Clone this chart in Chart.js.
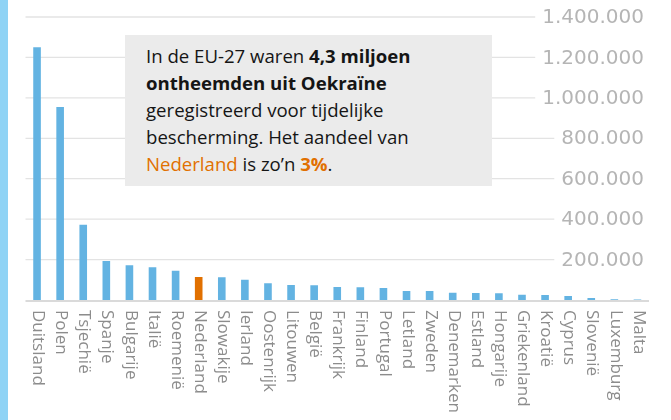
<!DOCTYPE html>
<html lang="nl">
<head>
<meta charset="utf-8">
<script src="https://cdn.jsdelivr.net/npm/chart.js@4.4.1/dist/chart.umd.min.js"></script>
<style>
  body { margin: 0; background: #fff; }
  .wrap { position: relative; width: 671px; height: 420px; overflow: hidden; }
  .streep { position: absolute; left: 0; top: 0; width: 8px; height: 420px; background: #8fd3f5; }
  .kader {
    position: absolute; left: 125px; top: 35px; width: 346px; height: 144px;
    padding: 7px 0 0 21px; background: #ebebeb;
    font-family: "Open Sans", sans-serif; font-size: 18.6px; line-height: 27px; color: #151515;
    white-space: nowrap;
  }
  .kader b { font-weight: 700; }
  .oranje { color: #e17000; }
</style>
</head>
<body>
<div class="wrap">
  <canvas id="vluchtelingenChart" width="671" height="420"></canvas>
  <div class="streep"></div>
  <div class="kader">
    In de EU-27 waren <b>4,3 miljoen</b><br>
    <b>ontheemden uit Oekraïne</b><br>
    geregistreerd voor tijdelijke<br>
    bescherming. Het aandeel van<br>
    <span class="oranje">Nederland</span> is zo’n <b class="oranje">3%</b>.
  </div>
</div>
<script>
const landen = ['Duitsland', 'Polen', 'Tsjechië', 'Spanje', 'Bulgarije', 'Italië', 'Roemenië', 'Nederland',
    'Slowakije', 'Ierland', 'Oostenrijk', 'Litouwen', 'België', 'Frankrijk', 'Finland', 'Portugal', 'Letland',
    'Zweden', 'Denemarken', 'Estland', 'Hongarije', 'Griekenland', 'Kroatië', 'Cyprus', 'Slovenië', 'Luxemburg', 'Malta'];
const ontheemden = [1250000, 955000, 372000, 193000, 172000, 162000, 145000, 114000,
    113000, 100000, 83000, 74000, 73000, 64000, 63000, 59000, 45000,
    44000, 36000, 35000, 33000, 26000, 25000, 20000, 10000, 4000, 2000];
const yMax = 1400000;
const yStap = 200000;

function formatNL(v) {
    return String(v).replace(/\B(?=(\d{3})+(?!\d))/g, '.');
}

const kleuren = landen.map(l => l === 'Nederland' ? '#e17000' : '#63b3e2');

const assenPlugin = {
    id: 'assenPlugin',
    beforeDatasetsDraw(chart) {
        const { ctx, chartArea, scales: { x, y } } = chart;
        ctx.save();
        // gridlines stoppen voor de labels rechts
        ctx.font = '20px "DejaVu Sans"';
        ctx.textAlign = 'right';
        ctx.textBaseline = 'middle';
        y.ticks.forEach(t => {
            if (t.value === 0) return;
            const py = y.getPixelForValue(t.value);
            const label = formatNL(t.value);
            const w = ctx.measureText(label).width;
            ctx.strokeStyle = '#e3e3e3';
            ctx.lineWidth = 1.3;
            ctx.beginPath();
            ctx.moveTo(chartArea.left, py);
            ctx.lineTo(644 - w - 7, py);
            ctx.stroke();
            ctx.fillStyle = '#b5b5b5';
            ctx.fillText(label, 644, py + 1);
        });
        // landnamen, met de klok mee gedraaid
        ctx.font = '17px "Open Sans"';
        ctx.fillStyle = '#8c8c8c';
        ctx.textAlign = 'left';
        ctx.textBaseline = 'middle';
        landen.forEach((naam, i) => {
            const px = x.getPixelForValue(i);
            ctx.save();
            ctx.translate(px + 1, chartArea.bottom + 10);
            ctx.rotate(Math.PI / 2);
            ctx.fillText(naam, 0, 0);
            ctx.restore();
        });
        ctx.restore();
    },
    afterDatasetsDraw(chart) {
        const { ctx, chartArea, scales: { y } } = chart;
        const py = y.getPixelForValue(0);
        ctx.save();
        ctx.strokeStyle = '#dadada';
        ctx.lineWidth = 2;
        ctx.beginPath();
        ctx.moveTo(chartArea.left, py + 1);
        ctx.lineTo(chartArea.right, py + 1);
        ctx.stroke();
        ctx.restore();
    }
};

const ctx = document.getElementById('vluchtelingenChart').getContext('2d');
new Chart(ctx, {
    type: 'bar',
    data: {
        labels: landen,
        datasets: [{
            data: ontheemden,
            backgroundColor: kleuren,
            borderWidth: 0,
            barPercentage: 0.33,
            categoryPercentage: 1
        }]
    },
    options: {
        responsive: false,
        animation: false,
        layout: { padding: { left: 25.5, right: 22, top: 17, bottom: 120 } },
        plugins: { legend: { display: false }, tooltip: { enabled: false } },
        scales: {
            x: { display: false },
            y: { display: false, min: 0, max: yMax, ticks: { stepSize: yStap } }
        }
    },
    plugins: [assenPlugin]
});
</script>
</body>
</html>
